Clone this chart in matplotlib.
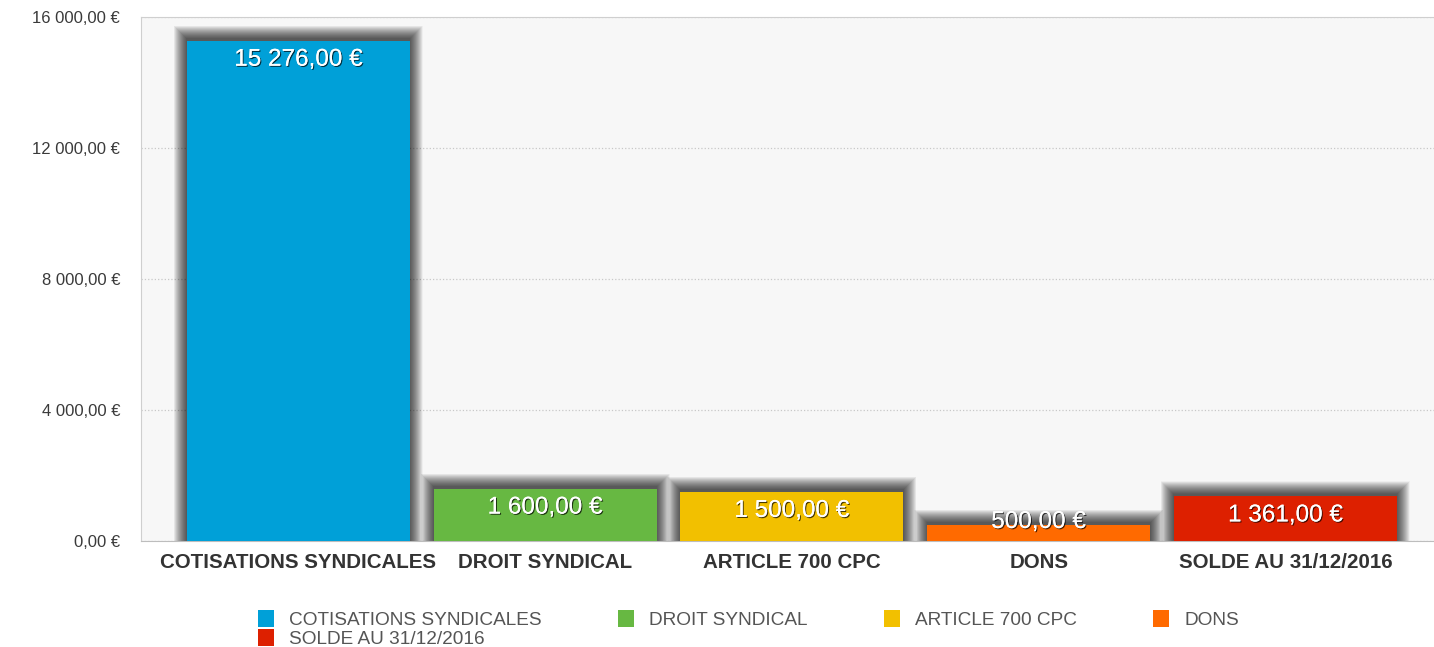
import matplotlib.pyplot as plt
import matplotlib.patheffects as pe
from matplotlib.patches import Patch

# --- Données ---
categories = ["COTISATIONS SYNDICALES", "DROIT SYNDICAL", "ARTICLE 700 CPC",
              "DONS", "SOLDE AU 31/12/2016"]
values = [15276, 1600, 1500, 500, 1361]
colors = ["#00a0d8", "#67b842", "#f2c000", "#ff6a00", "#dd2000"]
yticks = [0, 4000, 8000, 12000, 16000]


def euro(v):
    return f"{v:,.2f}".replace(",", " ").replace(".", ",") + " €"


plt.rcParams['font.family'] = ['Liberation Sans', 'DejaVu Sans']

fig = plt.figure(figsize=(14.34, 6.47), dpi=100)
ax = fig.add_axes([141 / 1434, 106 / 647, 1293 / 1434, 524 / 647])
ax.set_facecolor("#f7f7f7")

x = list(range(len(categories)))
width = 0.904
px_x = 1 / 246.75          # unités x par pixel
px_y = 16000 / 524         # unités y par pixel

# --- Ombre floue autour des barres ---
n_layers = 26
for i in range(n_layers, 0, -1):
    e = i * 0.5
    ax.bar(x, [v + (e + 2) * px_y for v in values], width=width + 2 * e * px_x,
           color="black", alpha=0.035, zorder=2, linewidth=0)

bars = ax.bar(x, values, width=width, color=colors, zorder=3, linewidth=0)

# --- Étiquettes de valeurs ---
for xi, v in zip(x, values):
    ax.text(xi, max(v - 19 * px_y, 19 * px_y), euro(v), ha="center", va="center",
            color="white", fontsize=17.5, zorder=4,
            path_effects=[pe.withSimplePatchShadow(offset=(0.8, -0.8), shadow_rgbFace="black", alpha=0.7),
                          pe.Normal()])

ax.set_xlim(-0.638, 4.602)
ax.set_ylim(0, 16000)
ax.set_yticks(yticks)
ax.set_yticklabels([euro(t) for t in yticks], fontsize=12, color="#3a3a3a")
ax.set_xticks(x)
ax.set_xticklabels(categories, fontsize=14.8, fontweight="bold", color="#333333")
ax.tick_params(axis="both", length=0)
ax.tick_params(axis="y", pad=15)
ax.tick_params(axis="x", pad=9)

ax.grid(axis="y", linestyle=":", color="#c8c8c8", linewidth=0.9, zorder=0)
ax.set_axisbelow(True)
for s in ["left", "top"]:
    ax.spines[s].set_color("#cfcfcf")
ax.spines["bottom"].set_color("#bdbdbd")
ax.spines["right"].set_visible(False)

# --- Légende ---
handles = [Patch(facecolor=c, edgecolor="none") for c in colors]
order = [0, 4, 1, 2, 3]
fig.legend([handles[i] for i in order], [categories[i] for i in order],
           ncol=4, loc="upper left", bbox_to_anchor=(248 / 1434, 1 - 600 / 647),
           frameon=False, fontsize=13.7, labelcolor="#555555",
           handlelength=0.85, handleheight=1.05, handletextpad=0.8,
           columnspacing=4.0, labelspacing=0.0, borderpad=0)

fig.savefig("out.png", dpi=100)
